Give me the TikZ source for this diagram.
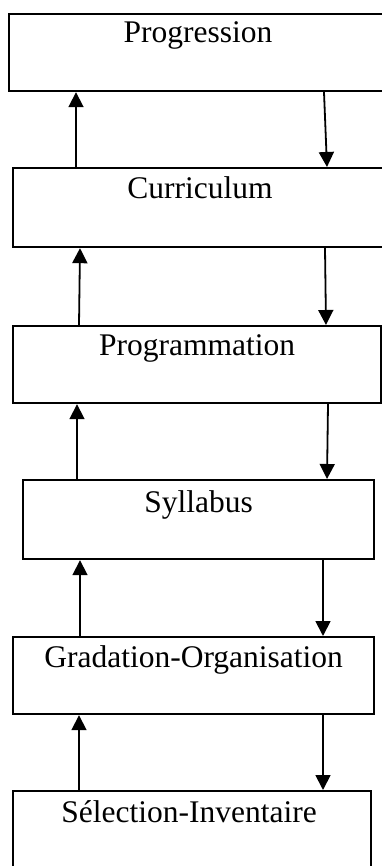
\documentclass[tikz,border=0pt]{standalone}
\usepackage{fontspec}
\setmainfont{Liberation Serif}
\usetikzlibrary{arrows.meta}
\begin{document}
\begin{tikzpicture}[x=1pt,y=-1pt,
  box/.style={draw=black, line width=2.2pt, rectangle, inner sep=0pt, anchor=north west},
  lbl/.style={anchor=base, inner sep=0pt, font=\fontsize{31.5}{36}\selectfont},
  arr/.style={line width=1.8pt, -{Triangle[length=15pt,width=15pt]}}]
\useasboundingbox (0,0) rectangle (382,866);
\node[box, minimum width=378pt, minimum height=77pt] (b1) at (8,13) {};
\node[box, minimum width=374pt, minimum height=79pt] (b2) at (12,167) {};
\node[box, minimum width=368pt, minimum height=77pt] (b3) at (12,325) {};
\node[box, minimum width=351pt, minimum height=79pt] (b4) at (22,479) {};
\node[box, minimum width=361pt, minimum height=77pt] (b5) at (12,636) {};
\node[box, minimum width=358pt, minimum height=80pt] (b6) at (12,790) {};
\node[lbl] (t1) at ([yshift=-30pt]b1.north) {Progression};
\node[lbl] (t2) at ([yshift=-32pt]b2.north) {Curriculum};
\node[lbl] (t3) at ([yshift=-30pt]b3.north) {Programmation};
\node[lbl] (t4) at ([yshift=-33pt]b4.north) {Syllabus};
\node[lbl] (t5) at ([yshift=-31pt]b5.north) {Gradation-Organisation};
\node[lbl] (t6) at ([yshift=-32pt,xshift=-3pt]b6.north) {Sélection-Inventaire};
% up arrows
\draw[arr] (b2.north -| 76,0) -- (b1.south -| 76,0);
\draw[arr] (b3.north -| 79,0) -- (b2.south -| 80,0);
\draw[arr] (b4.north -| 77,0) -- (b3.south -| 77,0);
\draw[arr] (b5.north -| 80,0) -- (b4.south -| 80,0);
\draw[arr] (b6.north -| 79,0) -- (b5.south -| 79,0);
% down arrows
\draw[arr] (b1.south -| 324,0) -- (b2.north -| 327,0);
\draw[arr] (b2.south -| 325,0) -- (b3.north -| 326,0);
\draw[arr] (b3.south -| 328,0) -- (b4.north -| 327,0);
\draw[arr] (b4.south -| 323,0) -- (b5.north -| 323,0);
\draw[arr] (b5.south -| 323,0) -- (b6.north -| 323,0);
\end{tikzpicture}
\end{document}
